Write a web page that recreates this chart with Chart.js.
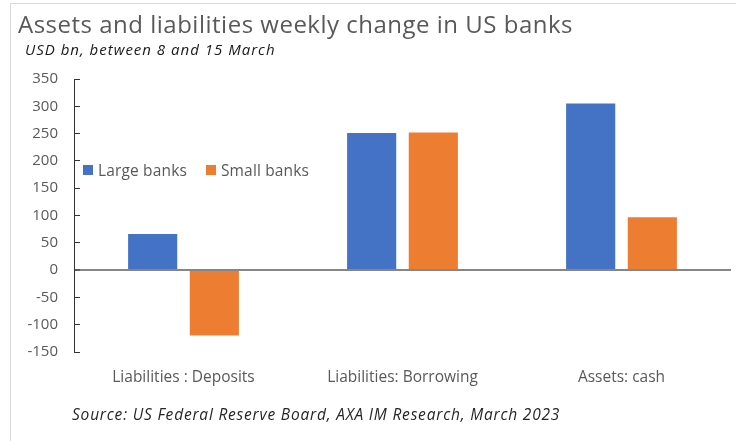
<!DOCTYPE html>
<html>
<head>
<meta charset="utf-8">
<script src="https://cdn.jsdelivr.net/npm/chart.js@4/dist/chart.umd.min.js"></script>
<style>
  html, body { margin: 0; padding: 0; background: #fff; }
  #wrap { position: relative; width: 736px; height: 441px; overflow: hidden; font-family: "Open Sans", "Liberation Sans", sans-serif; }
  #frame { position: absolute; left: 10px; top: 3px; right: -2px; bottom: -2px; border-left: 1px solid #d9d9d9; border-top: 1px solid #d9d9d9; }
  canvas { position: absolute; left: 0; top: 0; }
  .txt { position: absolute; white-space: nowrap; line-height: 1; }
  #title { left: 18px; top: 12px; font-size: 24px; letter-spacing: 0.5px; color: #595959; }
  #subtitle { left: 25px; top: 42px; font-size: 15px; letter-spacing: 1px; font-style: italic; color: #1a1a1a; }
  #source { left: 72px; top: 407px; font-size: 15.5px; letter-spacing: 0.8px; font-style: italic; color: #262626; }
  #legend { position: absolute; left: 83px; top: 161px; font-size: 15.5px; letter-spacing: 0.15px; color: #595959; display: flex; line-height: 18px; }
  .item { display: flex; align-items: center; margin-right: 19px; }
  .sw { width: 10px; height: 10px; margin-right: 5px; }
</style>
</head>
<body>
<div id="wrap">
  <div id="frame"></div>
  <canvas id="c" width="736" height="441"></canvas>
  <div class="txt" id="title">Assets and liabilities weekly change in US banks</div>
  <div class="txt" id="subtitle">USD bn, between 8 and 15 March</div>
  <div id="legend"></div>
  <div class="txt" id="source">Source: US Federal Reserve Board, AXA IM Research, March 2023</div>
</div>
<script>
// Weekly change, USD bn
const categories = ['Liabilities : Deposits', 'Liabilities: Borrowing', 'Assets: cash'];
const seriesNames = ['Large banks', 'Small banks'];
const largeBanks = [66, 251, 305];
const smallBanks = [-120, 252, 97];
const seriesColors = ['#4472C4', '#ED7D31'];
const yTicks = [350, 300, 250, 200, 150, 100, 50, 0, -50, -100, -150];

const fontFamily = '"Open Sans", "Liberation Sans", sans-serif';

const chart = new Chart(document.getElementById('c'), {
  type: 'bar',
  data: {
    labels: categories,
    datasets: [
      { label: seriesNames[0], data: largeBanks, backgroundColor: seriesColors[0] },
      { label: seriesNames[1], data: smallBanks, backgroundColor: seriesColors[1] }
    ]
  },
  options: {
    responsive: false,
    animation: false,
    devicePixelRatio: 1,
    layout: { padding: { top: 79, right: 5, left: 0, bottom: 0 } },
    categoryPercentage: 0.563,
    barPercentage: 0.797,
    plugins: { legend: { display: false }, tooltip: { enabled: false }, title: { display: false } },
    scales: {
      x: {
        grid: { display: false, drawTicks: false },
        border: { display: false },
        ticks: { color: '#595959', font: { family: fontFamily, size: 15.5 }, padding: 16, maxRotation: 0 },
        afterFit: s => { s.height = 89; }
      },
      y: {
        min: -150,
        max: 350,
        afterBuildTicks: s => { s.ticks = yTicks.map(v => ({ value: v })); },
        afterFit: s => { s.width = 74; },
        ticks: { color: '#595959', font: { family: fontFamily, size: 15 }, padding: 22 },
        border: { display: true, color: '#333333', width: 1 },
        grid: {
          drawOnChartArea: true,
          drawTicks: true,
          // short inward tick marks on the value axis
          tickLength: -6,
          tickColor: '#333333',
          tickWidth: 1,
          // only the zero line is drawn across the plot
          color: ctx => (ctx.tick && ctx.tick.value === 0 ? '#868686' : 'rgba(0,0,0,0)'),
          lineWidth: ctx => (ctx.tick && ctx.tick.value === 0 ? 2 : 1)
        }
      }
    }
  }
});

// Legend built from the dataset definitions
const legend = document.getElementById('legend');
chart.data.datasets.forEach(ds => {
  const item = document.createElement('div');
  item.className = 'item';
  const sw = document.createElement('span');
  sw.className = 'sw';
  sw.style.background = ds.backgroundColor;
  const t = document.createElement('span');
  t.textContent = ds.label;
  item.appendChild(sw);
  item.appendChild(t);
  legend.appendChild(item);
});
</script>
</body>
</html>
